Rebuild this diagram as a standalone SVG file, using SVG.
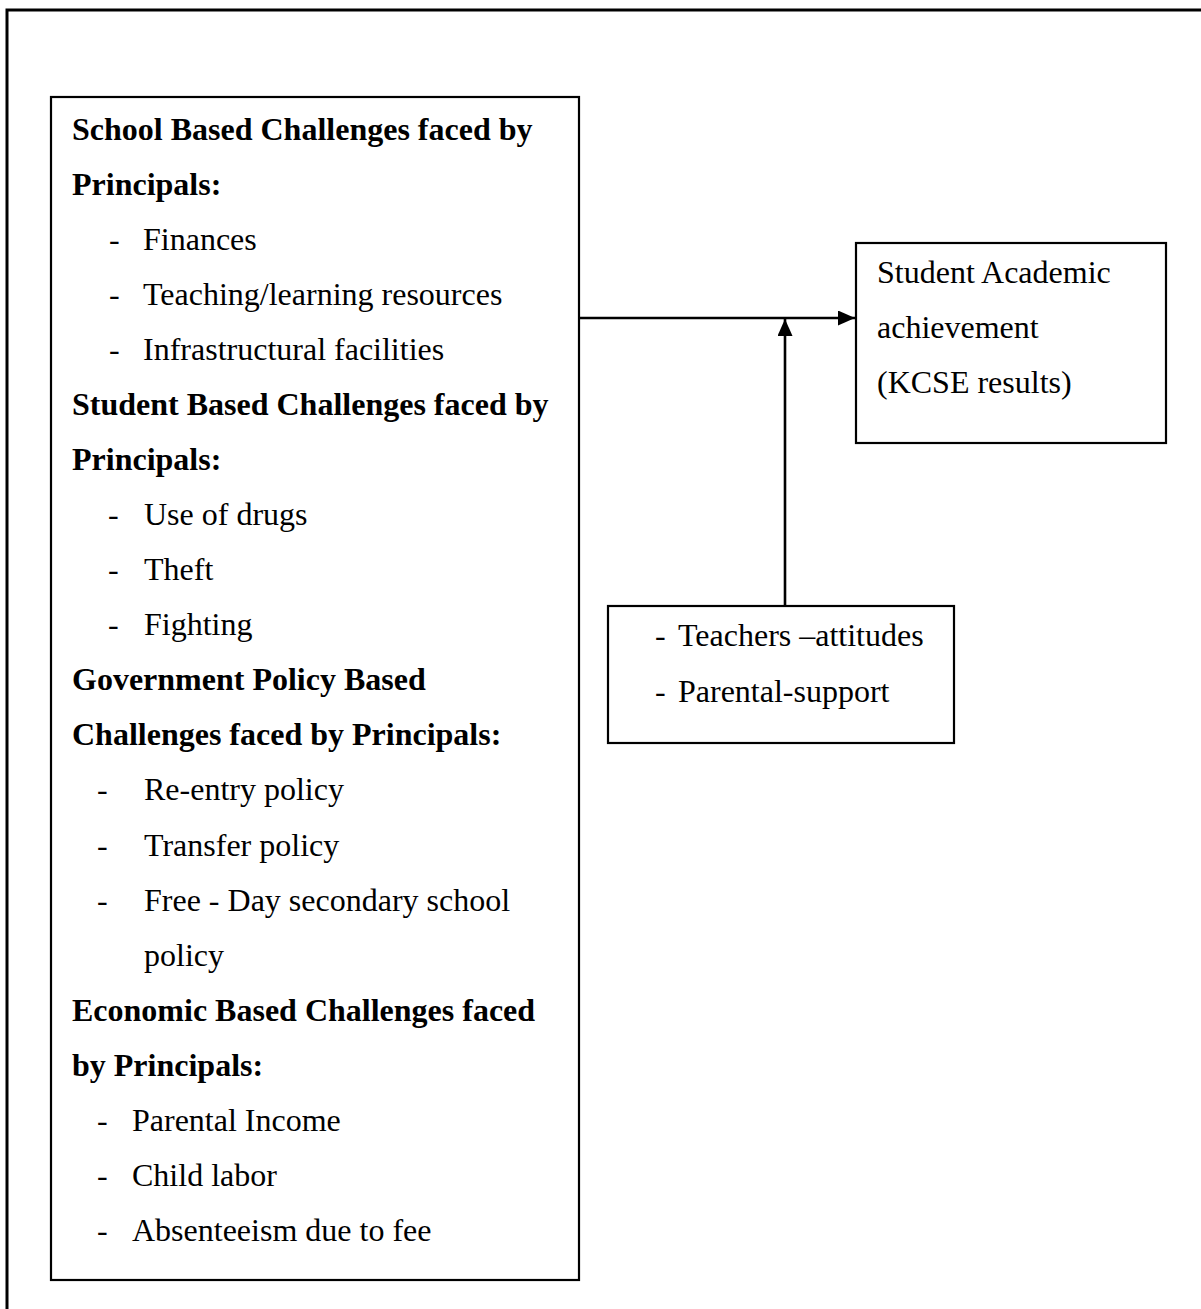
<svg xmlns="http://www.w3.org/2000/svg" width="1201" height="1309" viewBox="0 0 1201 1309">
<style>
text { font-family: "Liberation Serif", "Times New Roman", serif; font-size: 32px; fill: #000; }
.b { font-weight: bold; }
.box { fill: #fff; stroke: #000; stroke-width: 2.2; }
.conn { stroke: #000; stroke-width: 2.6; fill: none; }
.frame { stroke: #000; stroke-width: 3; fill: none; }
</style>
<defs>
<marker id="arrow" viewBox="0 0 17 15" refX="17" refY="7.5" markerWidth="17" markerHeight="15" markerUnits="userSpaceOnUse" orient="auto">
<path d="M0,0 L17,7.5 L0,15 Z" fill="#000"/>
</marker>
</defs>
<rect width="1201" height="1309" fill="#fff"/>
<path class="frame" d="M7,1309 L7,10 L1201,10"/>

<g id="challenges">
<rect class="box" x="51" y="97" width="528" height="1183"/>
<text class="b" x="72" y="140">School Based Challenges faced by</text>
<text class="b" x="72" y="195">Principals:</text>
<text x="109" y="250">-</text><text x="143" y="250">Finances</text>
<text x="109" y="305">-</text><text x="143" y="305">Teaching/learning resources</text>
<text x="109" y="360">-</text><text x="143" y="360">Infrastructural facilities</text>
<text class="b" x="72" y="415">Student Based Challenges faced by</text>
<text class="b" x="72" y="470">Principals:</text>
<text x="108" y="525">-</text><text x="144" y="525">Use of drugs</text>
<text x="108" y="580">-</text><text x="144" y="580">Theft</text>
<text x="108" y="635">-</text><text x="144" y="635">Fighting</text>
<text class="b" x="72" y="690">Government Policy Based</text>
<text class="b" x="72" y="745">Challenges faced by Principals:</text>
<text x="97" y="800">-</text><text x="144" y="800">Re-entry policy</text>
<text x="97" y="855.5">-</text><text x="144" y="855.5">Transfer policy</text>
<text x="97" y="910.5">-</text><text x="144" y="910.5">Free - Day secondary school</text>
<text x="144" y="965.5">policy</text>
<text class="b" x="72" y="1020.5">Economic Based Challenges faced</text>
<text class="b" x="72" y="1075.5">by Principals:</text>
<text x="97" y="1130.5">-</text><text x="132" y="1130.5">Parental Income</text>
<text x="97" y="1185.5">-</text><text x="132" y="1185.5">Child labor</text>
<text x="97" y="1240.5">-</text><text x="132" y="1240.5">Absenteeism due to fee</text>
</g>

<g id="achievement">
<rect class="box" x="856" y="243" width="310" height="200"/>
<text x="877" y="283">Student Academic</text>
<text x="877" y="338">achievement</text>
<text x="877" y="393">(KCSE results)</text>
</g>

<g id="moderators">
<rect class="box" x="608" y="606" width="346" height="137"/>
<text x="655" y="646">-</text><text x="678" y="646">Teachers –attitudes</text>
<text x="655" y="702">-</text><text x="678" y="702">Parental-support</text>
</g>

<g id="connectors">
<line class="conn" x1="579" y1="318" x2="855" y2="318" marker-end="url(#arrow)"/>
<line class="conn" x1="785" y1="606" x2="785" y2="319" marker-end="url(#arrow)"/>
</g>
</svg>
